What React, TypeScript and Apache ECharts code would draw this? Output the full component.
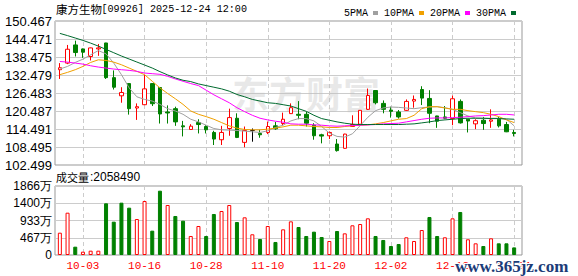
import React, { useEffect, useRef } from "react";
import * as echarts from "echarts";

const dates = [
  "09-29","09-30","10-02","10-03","10-06","10-08","10-09","10-10","10-13","10-14",
  "10-15","10-16","10-17","10-20","10-21","10-22","10-23","10-24","10-27","10-28",
  "10-30","10-31","11-03","11-04","11-05","11-06","11-07","11-10","11-11","11-12",
  "11-13","11-14","11-17","11-18","11-19","11-20","11-21","11-24","11-25","11-26",
  "11-27","11-28","12-01","12-02","12-03","12-04","12-05","12-08","12-09","12-10",
  "12-11","12-12","12-15","12-16","12-17","12-18","12-19","12-22","12-23","12-24",
];
const opens = [
  134.24,136.44,142.49,141.17,138.64,141.17,143.15,131.6,125.55,129.62,
  121.48,122.58,129.62,128.3,120.16,121.26,115.54,114.33,116.64,115.32,
  113.34,110.92,114.66,118.07,110.04,114.0,113.01,113.34,115.54,116.31,
  119.61,119.39,119.39,115.76,112.57,112.24,109.49,108.06,115.32,116.09,
  121.04,127.31,123.02,120.82,120.16,120.71,123.79,127.64,124.67,118.84,
  118.51,117.96,123.68,117.74,116.2,117.41,117.08,117.74,115.98,113.34,
];
const closes = [
  134.9,141.06,139.96,140.07,141.5,141.5,131.6,128.41,126.65,121.26,
  121.92,127.86,122.91,119.5,119.83,116.86,115.21,115.43,115.98,114.22,
  111.14,113.34,118.29,111.69,114.0,114.0,112.57,115.32,114.55,117.74,
  121.59,119.06,116.42,112.24,112.13,113.34,107.29,112.79,115.98,120.71,
  125.66,123.24,121.04,120.38,118.51,123.68,124.34,124.78,119.72,117.08,
  118.07,124.56,116.53,117.15,117.25,116.31,117.52,115.54,113.56,113.01,
];
const lows = [
  131.16,136.1,138.64,138.2,137.32,138.86,131.16,127.64,123.24,119.28,
  117.52,122.47,122.14,116.31,116.31,115.54,112.02,114.22,113.01,113.01,
  109.16,109.16,112.24,111.47,108.39,110.26,111.58,112.79,114.22,115.76,
  119.5,117.74,115.32,110.92,109.71,111.14,106.96,107.95,115.32,116.0,
  120.82,122.69,119.72,118.29,117.96,120.49,121.59,122.47,116.42,114.88,
  117.74,115.76,116.31,113.34,114.44,114.22,114.88,115.0,113.45,112.02,
];
const highs = [
  136.44,142.49,143.92,141.3,141.6,142.82,143.2,134.0,128.41,129.7,
  123.02,132.59,129.7,128.5,122.36,121.92,117.19,116.09,117.74,115.76,
  113.89,115.54,121.26,119.72,115.32,114.66,114.22,116.97,116.86,119.94,
  123.02,123.79,120.16,116.42,112.9,113.67,111.14,112.9,119.06,120.8,
  127.97,127.4,124.01,121.92,120.82,124.34,125.66,128.74,127.42,118.9,
  122.14,125.66,124.34,117.8,117.74,118.51,121.04,118.51,116.86,114.22,
];
// volume in 万 shares
const volumes = [
  603,1144,225,90,117,117,1398,901,1415,1280,
  973,1460,658,1739,1352,1055,928,514,784,514,
  1109,1190,1352,892,1019,560,433,784,352,694,
  910,757,514,631,487,379,649,586,803,838,
  992,514,406,243,297,479,379,676,1028,514,
  479,992,1163,425,316,243,451,316,316,205.849,
];
const ma5 = [
  134.46,135.34,136.66,137.76,139.19,140.62,139.52,136.44,132.59,128.19,
  125.22,124.34,123.79,122.69,121.26,120.49,119.39,117.74,116.86,115.76,
  114.66,114.22,114.11,114.0,113.78,113.56,113.34,113.89,114.99,115.76,
  117.19,117.96,117.96,117.19,115.32,113.12,112.02,111.8,112.9,115.6,
  118.4,120.6,121.5,121.81,121.7,121.48,121.26,121.59,121.81,121.92,
  121.59,121.04,119.94,118.84,118.18,118.07,118.07,118.07,117.74,115.54,
];
const ma10 = [
  132.59,133.36,134.24,135.34,136.66,137.54,137.32,136.77,135.89,134.79,
  133.69,132.59,130.39,128.19,126.32,124.56,122.69,120.49,119.39,118.62,
  117.74,116.64,115.54,114.77,114.33,114.22,114.22,114.44,114.77,115.21,
  115.76,115.76,115.54,115.32,115.21,114.99,114.99,115.32,115.54,115.76,
  115.87,116.2,116.64,117.19,117.74,117.96,119.06,121.26,121.92,121.92,
  121.48,121.04,121.04,120.6,120.27,119.94,119.39,118.62,117.52,116.64,
];
const ma20 = [
  136.99,136.77,136.44,136.11,135.56,135.12,134.79,134.46,134.24,134.02,
  133.69,133.14,132.92,132.7,132.04,131.16,130.39,129.62,128.96,127.42,
  125.88,124.56,123.24,121.59,120.27,119.06,118.07,117.52,117.08,116.75,
  116.2,116.09,116.09,115.87,115.76,115.54,115.43,115.54,115.65,115.76,
  115.87,115.98,116.2,116.31,116.42,116.86,117.3,117.74,118.07,118.18,
  118.18,118.29,118.4,118.62,118.84,118.95,119.17,119.39,119.39,119.17,
];
const ma30 = [
  146.34,145.6,144.8,144.0,143.1,142.1,141.0,139.9,138.8,137.8,
  136.8,135.8,134.8,133.6,132.5,131.5,130.72,130.28,129.51,128.96,
  128.41,127.86,127.09,125.99,125.22,124.34,123.79,123.24,123.02,122.58,
  122.14,121.26,120.38,119.06,117.96,117.41,116.86,116.42,116.09,115.98,
  115.98,115.98,115.98,115.98,115.98,116.09,116.2,116.53,116.86,117.3,
  117.52,117.74,117.96,118.07,118.07,118.07,117.96,117.96,117.85,117.74,
];
const maNames = ["5PMA", "10PMA", "20PMA", "30PMA"];
const maColors = ["#a0a0a0", "#f0a000", "#ff00ff", "#006a2e"];
const priceMin = 102.499;
const priceStep = 5.996;
const priceSteps = 8;
const volMax = 1866;
const volSteps = 4;
const stockTitle = "康方生物";
const stockInfo = "[09926] 2025-12-24 12:00";

const labelEvery = (idx: number) => idx % 8 === 3;

export default function App() {
  const ref = useRef<HTMLDivElement>(null);
  useEffect(() => {
    document.body.style.margin = "0";
    const chart = echarts.init(ref.current!, null, { renderer: "svg", width: 578, height: 276 });
    const candleData = dates.map((_, i) => [opens[i], closes[i], lows[i], highs[i]]);
    const volData = volumes.map((v, i) => {
      const up = i === 0 ? closes[0] >= opens[0] : closes[i] >= closes[i - 1];
      return {
        value: v,
        itemStyle: up
          ? { color: "#ffffff", borderColor: "#ff0000", borderWidth: 1 }
          : { color: "#008000", borderColor: "#008000", borderWidth: 1 },
      };
    });
    const priceMax = priceMin + priceSteps * priceStep;
    const dashed = { show: true, interval: labelEvery, lineStyle: { color: "#cccccc", type: [4, 3] as any, width: 1 } };
    const mas = [ma5, ma10, ma20, ma30];
    const option: any = {
      animation: false,
      backgroundColor: "#ffffff",
      legend: {
        data: maNames,
        left: 339,
        top: 3,
        align: "right",
        icon: "rect",
        itemWidth: 5,
        itemHeight: 4,
        itemGap: 6,
        selectedMode: false,
        textStyle: { fontFamily: "Liberation Mono", fontSize: 10, color: "#000" },
      },
      grid: [
        { left: 55, top: 21, width: 467, height: 144, show: true, borderColor: "#999", borderWidth: 1 },
        { left: 59.85, top: 21, width: 454.3, height: 144 },
        { left: 55, top: 186, width: 467, height: 69, show: true, borderColor: "#999", borderWidth: 1 },
        { left: 59.85, top: 186, width: 454.3, height: 69 },
      ],
      xAxis: [
        { gridIndex: 0, type: "value", min: 0, max: 1, show: false },
        {
          gridIndex: 1, type: "category", data: dates, boundaryGap: false,
          axisLine: { show: false }, axisTick: { show: false }, axisLabel: { show: false },
          splitLine: dashed,
        },
        { gridIndex: 2, type: "value", min: 0, max: 1, show: false },
        {
          gridIndex: 3, type: "category", data: dates, boundaryGap: false,
          axisLine: { show: false }, axisTick: { show: false },
          axisLabel: { interval: labelEvery, color: "#ff0000", fontFamily: "Liberation Mono", fontSize: 11, margin: 5 },
          splitLine: dashed,
        },
      ],
      yAxis: [
        {
          gridIndex: 0, type: "value", min: priceMin, max: priceMax, interval: priceStep,
          axisLine: { show: false }, axisTick: { show: false },
          axisLabel: { formatter: (v: number) => v.toFixed(3), fontFamily: "Liberation Sans", fontSize: 13, color: "#000", margin: 3 },
          splitLine: { lineStyle: { color: "#cccccc" } },
        },
        { gridIndex: 1, type: "value", min: priceMin, max: priceMax, show: false },
        {
          gridIndex: 2, type: "value", min: 0, max: volMax, interval: volMax / volSteps,
          axisLine: { show: false }, axisTick: { show: false },
          axisLabel: {
            formatter: (v: number) => (v === 0 ? "0" : Math.round(v) + "万"),
            fontFamily: "Liberation Sans", fontSize: 12, color: "#000", margin: 3,
          },
          splitLine: { lineStyle: { color: "#cccccc" } },
        },
        { gridIndex: 3, type: "value", min: 0, max: volMax, show: false },
      ],
      series: [
        {
          type: "candlestick", xAxisIndex: 1, yAxisIndex: 1, data: candleData, barWidth: 4, clip: false,
          itemStyle: {
            color: "#ffffff", color0: "#008000", borderColor: "#ff0000", borderColor0: "#008000",
            borderColorDoji: "#000000", borderWidth: 1,
          },
        },
        ...mas.map((d, k) => ({
          type: "line", name: maNames[k], xAxisIndex: 1, yAxisIndex: 1, data: d,
          symbol: "none", showSymbol: false, clip: false,
          lineStyle: { width: 1, color: maColors[k] }, itemStyle: { color: maColors[k] },
        })),
        { type: "bar", xAxisIndex: 3, yAxisIndex: 3, data: volData, barWidth: 4, clip: false },
      ],
      graphic: [
        {
          type: "text", x: 232, y: 93, z: 1, silent: true,
          style: { text: "东方财富", font: 'bold 37px "Noto Sans CJK SC"', fill: "rgba(190,190,190,0.35)", verticalAlign: "middle" },
        },
        {
          type: "text", x: 56, y: 9,
          style: { text: stockTitle, font: '11.5px "Noto Sans CJK SC"', fill: "#000", verticalAlign: "middle" },
        },
        {
          type: "text", x: 101.5, y: 9, scaleX: 0.92,
          style: { text: stockInfo, font: '11px "Liberation Mono"', fill: "#000", verticalAlign: "middle" },
        },
        {
          type: "text", x: 56, y: 177,
          style: { text: "成交量", font: '11px "Noto Sans CJK SC"', fill: "#000", verticalAlign: "middle" },
        },
        {
          type: "text", x: 90, y: 177,
          style: { text: ":" + Math.round(volumes[volumes.length - 1] * 10000), font: '12px "Liberation Sans"', fill: "#000", verticalAlign: "middle" },
        },
        {
          type: "text", x: 455, y: 266, z: 100,
          style: { text: "www.365jz.com", font: 'bold 17px "Liberation Serif"', fill: "#1b3c78", stroke: "#ffffff", lineWidth: 2, verticalAlign: "middle" },
        },
      ],
    };
    chart.setOption(option);
    return () => chart.dispose();
  }, []);
  return <div ref={ref} style={{ width: 578, height: 276, background: "#fff" }} />;
}
